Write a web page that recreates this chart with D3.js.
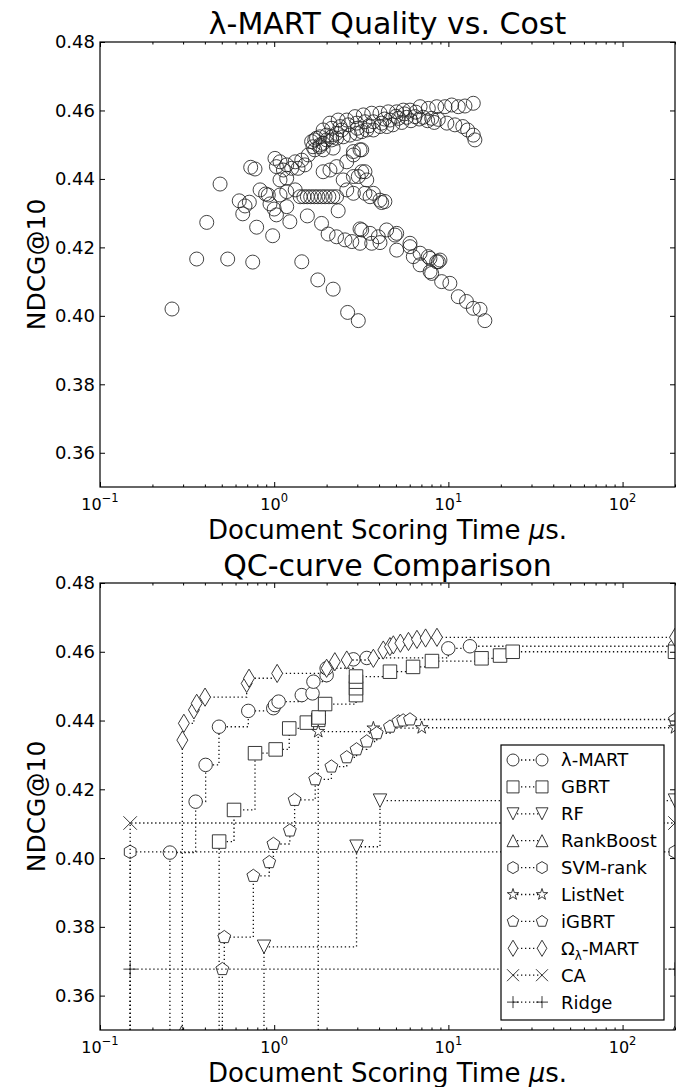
<!DOCTYPE html>
<html>
<head>
<meta charset="utf-8">
<script src="https://cdn.jsdelivr.net/npm/d3@7"></script>
<style>
body { margin: 0; background: #fff; }
svg text { font-family: "DejaVu Sans", sans-serif; fill: #000; }
</style>
</head>
<body>
<div id="chart"></div>
<script>
// ---- data ----
// top panel: every lambda-MART configuration, [scoring time in us, NDCG@10]
var lambdaMartPoints = [
    [0.259, 0.4020], [0.359, 0.4166], [0.410, 0.4273], [0.489, 0.4385], [0.541, 0.4166], [0.753, 0.4157],
    [0.793, 0.4259], [0.980, 0.4234], [0.630, 0.4336], [0.660, 0.4298], [0.680, 0.4321], [0.720, 0.4332],
    [0.733, 0.4434], [0.776, 0.4429], [0.830, 0.4368], [0.893, 0.4356], [0.925, 0.4353], [0.946, 0.4327],
    [1.00, 0.4312], [1.03, 0.4295], [1.08, 0.4353], [1.18, 0.4363], [1.32, 0.4368], [1.08, 0.4397],
    [1.18, 0.4402], [1.18, 0.4319], [1.23, 0.4275], [1.55, 0.4292], [1.87, 0.4270], [2.33, 0.4307],
    [3.11, 0.4254],
    [1.44, 0.4158], [1.78, 0.4105], [2.18, 0.4078], [2.64, 0.4010], [3.04, 0.3986],
    [1.41, 0.4348], [1.48, 0.4348], [1.55, 0.4348], [1.62, 0.4348], [1.70, 0.4348], [1.78, 0.4348],
    [1.87, 0.4348], [1.96, 0.4348], [2.06, 0.4348], [2.17, 0.4348], [2.28, 0.4348],
    [1.01, 0.4460], [1.08, 0.4450], [1.18, 0.4441], [1.32, 0.4450], [1.44, 0.4455], [1.57, 0.4470],
    [1.71, 0.4485], [1.83, 0.4494], [2.00, 0.4514], [2.14, 0.4523], [2.28, 0.4533], [2.44, 0.4543],
    [1.03, 0.4436], [1.13, 0.4426], [1.26, 0.4431], [1.37, 0.4431], [1.50, 0.4441],
    [1.64, 0.4509], [1.75, 0.4519], [1.83, 0.4523], [2.00, 0.4528], [1.83, 0.4499], [1.67, 0.4494],
    [1.91, 0.4485], [2.18, 0.4490],
    [1.91, 0.4421], [2.09, 0.4426], [2.28, 0.4436], [2.61, 0.4450], [2.85, 0.4470], [3.11, 0.4485],
    [2.85, 0.4480], [3.18, 0.4485],
    [2.49, 0.4397], [2.85, 0.4407], [3.18, 0.4421], [3.32, 0.4421], [3.04, 0.4407], [3.40, 0.4397],
    [3.71, 0.4358], [4.05, 0.4338], [4.32, 0.4334], [4.14, 0.4331], [2.61, 0.4368], [2.85, 0.4358],
    [3.32, 0.4358], [3.55, 0.4348],
    [2.04, 0.4239], [2.28, 0.4231], [2.55, 0.4222], [2.79, 0.4217], [3.11, 0.4212], [3.63, 0.4212],
    [4.05, 0.4214], [3.96, 0.4231], [3.18, 0.4251], [3.55, 0.4241], [4.42, 0.4251], [4.94, 0.4236],
    [5.05, 0.4241], [6.02, 0.4212], [7.84, 0.4168], [8.76, 0.4158],
    [5.05, 0.4192], [6.02, 0.4202], [6.29, 0.4173], [6.88, 0.4183], [7.67, 0.4173], [8.57, 0.4158],
    [8.95, 0.4163], [6.88, 0.4149], [7.85, 0.4129], [8.02, 0.4124],
    [9.15, 0.4100], [10.2, 0.4095], [11.4, 0.4056], [12.7, 0.4042], [13.9, 0.4022], [15.2, 0.4019],
    [16.2, 0.3986],
    [2.09, 0.4563], [2.33, 0.4572], [2.61, 0.4572], [2.91, 0.4582], [3.25, 0.4587], [3.63, 0.4592],
    [4.05, 0.4592], [4.52, 0.4596], [5.05, 0.4596], [5.51, 0.4601], [6.02, 0.4601], [6.88, 0.4611],
    [7.67, 0.4606], [8.57, 0.4611], [9.56, 0.4611], [10.45, 0.4616], [11.4, 0.4611], [12.45, 0.4613],
    [13.9, 0.4621],
    [1.91, 0.4543], [2.14, 0.4548], [2.39, 0.4553], [2.66, 0.4558], [2.98, 0.4563], [3.32, 0.4567],
    [3.71, 0.4567], [4.14, 0.4563], [4.62, 0.4572], [5.16, 0.4577], [5.76, 0.4580], [6.43, 0.4582],
    [7.18, 0.4580], [8.02, 0.4577], [8.75, 0.4574],
    [1.71, 0.4514], [1.91, 0.4504], [2.14, 0.4514], [2.28, 0.4519], [2.49, 0.4523], [2.72, 0.4528],
    [2.98, 0.4533], [3.18, 0.4538], [3.40, 0.4543], [3.71, 0.4543], [4.05, 0.4553], [4.43, 0.4553],
    [4.80, 0.4558], [5.40, 0.4565], [6.10, 0.4570], [6.80, 0.4575], [7.60, 0.4570], [8.30, 0.4565],
    [3.00, 0.4548], [3.50, 0.4555], [4.30, 0.4575], [5.00, 0.4583], [5.60, 0.4590], [6.50, 0.4595],
    [9.8, 0.4563], [10.9, 0.4558], [12.1, 0.4553], [12.9, 0.4543], [13.9, 0.4528], [14.2, 0.4514]
];

// bottom panel: quality/cost curves per method
var lambdaMartQC = [[0.252, 0.4016], [0.354, 0.4164], [0.404, 0.4271], [0.482, 0.4382], [0.71, 0.4428],
    [0.988, 0.4436], [1.01, 0.4445], [1.06, 0.4455], [1.44, 0.4474], [1.66, 0.4479], [1.68, 0.4513],
    [2.0, 0.4532], [2.0, 0.4552], [2.85, 0.4578], [3.4, 0.4582], [9.99, 0.4610], [13.3, 0.4616]];
var gbrtQC = [[0.483, 0.4048], [0.588, 0.4140], [0.776, 0.4305], [1.02, 0.4316], [1.22, 0.4377],
    [1.54, 0.4394], [1.79, 0.4402], [1.80, 0.4409], [1.96, 0.4448], [2.95, 0.4474], [2.95, 0.4494],
    [2.95, 0.4513], [2.95, 0.4528], [4.62, 0.4542], [6.27, 0.4556], [8.05, 0.4573], [15.5, 0.4581],
    [19.8, 0.4589], [23.4, 0.4600]];
var rfQC = [[0.874, 0.3742], [2.97, 0.4033], [4.05, 0.4167]];
var rankBoostQC = [[0.294, 0.3492]];
var svmRankQC = [[0.149, 0.4018]];
var listNetQC = [[1.79, 0.4368], [3.71, 0.4378], [7.03, 0.4379]];
var igbrtQC = [[0.504, 0.3677], [0.517, 0.3770], [0.759, 0.3948], [0.937, 0.3988], [0.99, 0.4041],
    [1.23, 0.4080], [1.31, 0.4169], [1.72, 0.4229], [2.13, 0.4266], [2.61, 0.4293], [2.97, 0.4316],
    [3.4, 0.4339], [3.88, 0.4363], [4.62, 0.4382], [5.16, 0.4397], [5.5, 0.4400], [6.02, 0.4403]];
var omegaMartQC = [[0.297, 0.4343], [0.303, 0.4392], [0.346, 0.4431], [0.359, 0.4450], [0.401, 0.4468],
    [0.695, 0.4508], [0.717, 0.4523], [1.04, 0.4537], [2.0, 0.4552], [2.23, 0.4571], [2.61, 0.4576],
    [3.71, 0.4581], [4.23, 0.4605], [4.62, 0.4615], [4.83, 0.4620], [5.3, 0.4625], [5.9, 0.4630],
    [6.6, 0.4636], [7.4, 0.4640], [8.6, 0.4642]];
var caQC = [[0.149, 0.4102]];
var ridgeQC = [[0.149, 0.3677]];

var methodNames = ["λ-MART", "GBRT", "RF", "RankBoost", "SVM-rank", "ListNet", "iGBRT", "Ω_λ-MART", "CA", "Ridge"];
var methodMarkers = ["circle", "square", "triangleDown", "triangleUp", "hexagon", "star", "pentagon", "thinDiamond", "x", "plus"];
var methodCurves = [lambdaMartQC, gbrtQC, rfQC, rankBoostQC, svmRankQC, listNetQC, igbrtQC, omegaMartQC, caQC, ridgeQC];

var xDomain = [0.1, 200];
var yDomain = [0.35, 0.48];
var yTickValues = [0.36, 0.38, 0.40, 0.42, 0.44, 0.46, 0.48];
var xMajorTicks = [0.1, 1, 10, 100];
var xMajorExponents = ["−1", "0", "1", "2"];

// ---- layout ----
var svgWidth = 680, svgHeight = 1087;
var plotLeft = 100, plotRight = 675;
var panels = [
    {top: 42, bottom: 487, title: "λ-MART Quality vs. Cost", titleY: 34},
    {top: 583, bottom: 1030, title: "QC-curve Comparison", titleY: 576}
];

var svg = d3.select("#chart").append("svg")
    .attr("width", svgWidth)
    .attr("height", svgHeight)
    .style("display", "block");

svg.append("rect").attr("width", svgWidth).attr("height", svgHeight).attr("fill", "#fff");

var xScale = d3.scaleLog().domain(xDomain).range([plotLeft, plotRight]);

var xMinorTicks = [];
xMajorTicks.forEach(function (d) {
    for (var k = 2; k <= 9; k++) {
        if (d * k <= xDomain[1]) xMinorTicks.push(d * k);
    }
});

// marker shapes, matplotlib style
function polygon(n, r, rot) {
    var pts = [];
    for (var i = 0; i < n; i++) {
        var a = rot + i * 2 * Math.PI / n;
        pts.push([r * Math.sin(a), -r * Math.cos(a)]);
    }
    return "M" + pts.map(function (p) { return p[0].toFixed(2) + "," + p[1].toFixed(2); }).join("L") + "Z";
}
function markerPath(type, s) {
    var h = s / 2;
    switch (type) {
        case "circle":
            return "M" + h + ",0A" + h + "," + h + " 0 1,1 " + (-h) + ",0A" + h + "," + h + " 0 1,1 " + h + ",0Z";
        case "square":
            return "M" + (-h) + "," + (-h) + "H" + h + "V" + h + "H" + (-h) + "Z";
        case "triangleUp":
            return "M0," + (-h) + "L" + h + "," + h + "L" + (-h) + "," + h + "Z";
        case "triangleDown":
            return "M0," + h + "L" + h + "," + (-h) + "L" + (-h) + "," + (-h) + "Z";
        case "hexagon":
            return polygon(6, h, 0);
        case "pentagon":
            return polygon(5, h, 0);
        case "star":
            var pts = [];
            for (var i = 0; i < 10; i++) {
                var r = i % 2 === 0 ? h : h * 0.382;
                var a = i * Math.PI / 5;
                pts.push([r * Math.sin(a), -r * Math.cos(a)]);
            }
            return "M" + pts.map(function (p) { return p[0].toFixed(2) + "," + p[1].toFixed(2); }).join("L") + "Z";
        case "thinDiamond":
            var dh = h * 1.35, dw = dh * 0.6;
            return "M0," + (-dh) + "L" + dw + ",0L0," + dh + "L" + (-dw) + ",0Z";
        case "x":
            return "M" + (-h) + "," + (-h) + "L" + h + "," + h + "M" + h + "," + (-h) + "L" + (-h) + "," + h;
        case "plus":
            return "M" + (-h) + ",0L" + h + ",0M0," + (-h) + "L0," + h;
    }
}

function drawAxes(p, yScale) {
    var g = svg.append("g");

    // minor + major x ticks on bottom and top, pointing inward
    [[d3.axisBottom, p.bottom], [d3.axisTop, p.top]].forEach(function (a) {
        g.append("g").attr("transform", `translate(0, ${a[1]})`)
            .call(a[0](xScale).tickValues(xMinorTicks).tickSize(-2.5).tickFormat(""));
        g.append("g").attr("transform", `translate(0, ${a[1]})`)
            .call(a[0](xScale).tickValues(xMajorTicks).tickSize(-5).tickFormat(""));
    });
    g.append("g").attr("transform", `translate(${plotLeft}, 0)`)
        .call(d3.axisLeft(yScale).tickValues(yTickValues).tickSize(-5).tickFormat(""));
    g.append("g").attr("transform", `translate(${plotRight}, 0)`)
        .call(d3.axisRight(yScale).tickValues(yTickValues).tickSize(-5).tickFormat(""));
    g.selectAll(".domain").remove();
    g.selectAll(".tick line").attr("stroke", "#000").attr("stroke-width", 1);

    // frame
    g.append("rect")
        .attr("x", plotLeft).attr("y", p.top)
        .attr("width", plotRight - plotLeft).attr("height", p.bottom - p.top)
        .attr("fill", "none").attr("stroke", "#000").attr("stroke-width", 1.2);

    // tick labels
    yTickValues.forEach(function (v) {
        g.append("text")
            .attr("x", plotLeft - 5).attr("y", yScale(v))
            .attr("dy", "0.36em")
            .attr("text-anchor", "end")
            .style("font-size", "18px")
            .text(v.toFixed(2));
    });
    xMajorTicks.forEach(function (v, i) {
        var t = g.append("text")
            .attr("x", xScale(v)).attr("y", p.bottom + 23)
            .attr("text-anchor", "middle")
            .style("font-size", "16px");
        t.append("tspan").text("10");
        t.append("tspan").attr("dy", -8).style("font-size", "11.5px").text(xMajorExponents[i]);
    });

    // axis titles
    var xl = g.append("text")
        .attr("x", (plotLeft + plotRight) / 2).attr("y", p.bottom + 52)
        .attr("text-anchor", "middle")
        .style("font-size", "26px");
    xl.append("tspan").text("Document Scoring Time ");
    xl.append("tspan").style("font-style", "italic").text("μ");
    xl.append("tspan").text("s.");

    g.append("text")
        .attr("transform", `translate(45, ${(p.top + p.bottom) / 2}) rotate(-90)`)
        .attr("text-anchor", "middle")
        .style("font-size", "25px")
        .text("NDCG@10");

    g.append("text")
        .attr("x", (plotLeft + plotRight) / 2).attr("y", p.titleY)
        .attr("text-anchor", "middle")
        .style("font-size", "30px")
        .text(p.title);
}

// ---- top panel: scatter ----
var p0 = panels[0];
var yTop = d3.scaleLinear().domain(yDomain).range([p0.bottom, p0.top]);

svg.append("clipPath").attr("id", "clipTop").append("rect")
    .attr("x", plotLeft).attr("y", p0.top)
    .attr("width", plotRight - plotLeft).attr("height", p0.bottom - p0.top);

svg.append("g").attr("clip-path", "url(#clipTop)")
    .selectAll("circle")
    .data(lambdaMartPoints)
    .enter()
    .append("circle")
    .attr("cx", d => xScale(d[0]))
    .attr("cy", d => yTop(d[1]))
    .attr("r", 7)
    .attr("fill", "none")
    .attr("stroke", "#222")
    .attr("stroke-width", 0.85);

drawAxes(p0, yTop);

// ---- bottom panel: QC curves ----
var p1 = panels[1];
var yBot = d3.scaleLinear().domain(yDomain).range([p1.bottom, p1.top]);

svg.append("clipPath").attr("id", "clipBot").append("rect")
    .attr("x", plotLeft).attr("y", p1.top)
    .attr("width", plotRight - plotLeft).attr("height", p1.bottom - p1.top);

var qcGroup = svg.append("g").attr("clip-path", "url(#clipBot)");

var stepLine = d3.line()
    .x(d => xScale(d[0]))
    .y(d => yBot(d[1]))
    .curve(d3.curveStepAfter);

methodCurves.forEach(function (pts, i) {
    var last = pts[pts.length - 1];
    // rise from the floor, step through the points, run out to the right edge
    var path = [[pts[0][0], yDomain[0]]].concat(pts).concat([[xDomain[1], last[1]]]);
    var markerPts = pts.concat([[xDomain[1], last[1]]]);

    qcGroup.append("path")
        .attr("d", stepLine(path))
        .attr("fill", "none")
        .attr("stroke", "#111")
        .attr("stroke-width", 1.3)
        .attr("stroke-dasharray", "1.3,2.7");

    qcGroup.selectAll(".m" + i)
        .data(markerPts)
        .enter()
        .append("path")
        .attr("class", "m" + i)
        .attr("transform", d => `translate(${xScale(d[0])}, ${yBot(d[1])})`)
        .attr("d", markerPath(methodMarkers[i], 13.5))
        .attr("fill", (methodMarkers[i] === "x" || methodMarkers[i] === "plus") ? "none" : "#fff")
        .attr("stroke", "#222")
        .attr("stroke-width", 0.9);
});

drawAxes(p1, yBot);

// legend
var legend = svg.append("g");
legend.append("rect")
    .attr("x", 501).attr("y", 745)
    .attr("width", 163).attr("height", 275)
    .attr("fill", "#fff").attr("stroke", "#000").attr("stroke-width", 1.2);

methodNames.forEach(function (name, i) {
    var ly = 760 + i * 26.9;
    legend.append("line")
        .attr("x1", 513).attr("x2", 542).attr("y1", ly).attr("y2", ly)
        .attr("stroke", "#111").attr("stroke-width", 1.3).attr("stroke-dasharray", "1.3,2.7");
    [513, 542].forEach(function (mx) {
        legend.append("path")
            .attr("transform", `translate(${mx}, ${ly})`)
            .attr("d", markerPath(methodMarkers[i], 12))
            .attr("fill", (methodMarkers[i] === "x" || methodMarkers[i] === "plus") ? "none" : "#fff")
            .attr("stroke", "#222").attr("stroke-width", 0.9);
    });
    var t = legend.append("text")
        .attr("x", 561).attr("y", ly)
        .attr("dy", "0.36em")
        .style("font-size", "18px");
    if (name.indexOf("_") >= 0) {
        var parts = name.split("_");
        t.append("tspan").text(parts[0]);
        t.append("tspan").attr("dy", 5).style("font-size", "12px").text(parts[1].charAt(0));
        t.append("tspan").attr("dy", -5).text(parts[1].slice(1));
    } else {
        t.text(name);
    }
});
</script>
</body>
</html>
